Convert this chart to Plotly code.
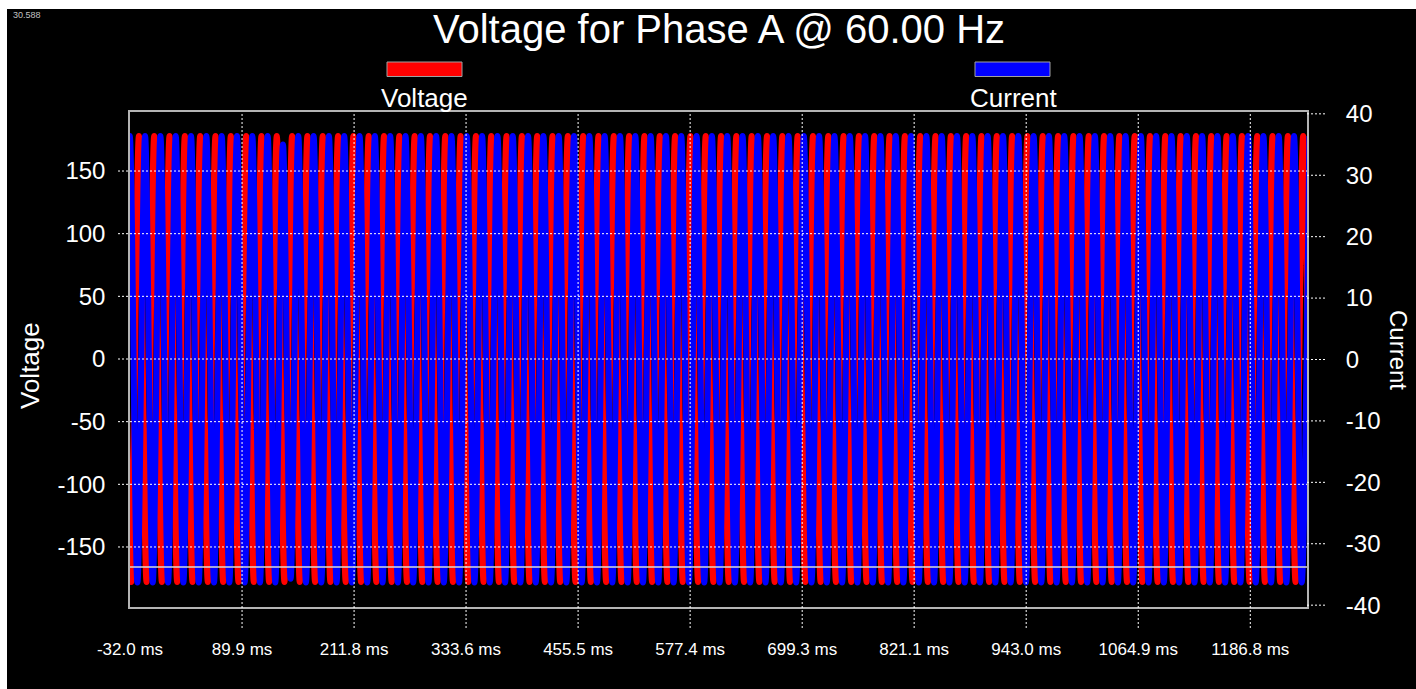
import plotly.graph_objects as go

# ---------------- data ----------------
line_freq_hz = 60.00
half_cycle_ms = 1000.0 / line_freq_hz / 2.0      # spacing between successive extremes
voltage_t0_ms = -39.0                              # time of first listed voltage extreme
current_t0_ms = -40.6                              # time of first listed current extreme

# successive peak / trough values of the Phase A voltage (V)
voltage_extremes = [
    178, -178, 178, -178, 178, -178, 178, -178, 178, -178, 178, -178,
    178, -178, 178, -178, 178, -178, 178, -178, 178, -178, 178, -178,
    178, -178, 178, -178, 178, -178, 178, -178, 178, -178, 178, -178,
    178, -178, 178, -178, 178, -178, 178, -178, 178, -178, 178, -178,
    178, -178, 178, -178, 178, -178, 178, -178, 178, -178, 178, -178,
    178, -178, 178, -178, 178, -178, 178, -178, 178, -178, 178, -178,
    178, -178, 178, -178, 178, -178, 178, -178, 178, -178, 178, -178,
    178, -178, 178, -178, 178, -178, 178, -178, 178, -178, 178, -178,
    178, -178, 178, -178, 178, -178, 178, -178, 178, -178, 178, -178,
    178, -178, 178, -178, 178, -178, 178, -178, 178, -178, 178, -178,
    178, -178, 178, -178, 178, -178, 178, -178, 178, -178, 178, -178,
    178, -178, 178, -178, 178, -178, 178, -178, 178, -178, 178, -178,
    178, -178, 178, -178, 178, -178, 178, -178, 178, -178, 178, -178,
]

# successive trough / peak values of the Phase A current (A)
current_extremes = [
    -36.3, 36.4, -36.3, 36.4, -36.3, 36.4, -36.3, 36.4, -36.3, 36.4, -36.3, 36.4,
    -36.3, 36.4, -36.3, 36.4, -36.3, 36.4, -36.3, 36.4, -36.3, 35.0, -35.7, 36.4,
    -36.3, 36.4, -36.3, 36.4, -36.3, 36.4, -36.3, 36.4, -36.3, 36.4, -36.3, 36.4,
    -36.3, 36.4, -36.3, 36.4, -36.3, 36.4, -36.3, 36.4, -36.3, 36.4, -36.3, 36.4,
    -36.3, 36.4, -36.3, 36.4, -36.3, 36.4, -36.3, 36.4, -36.3, 36.4, -36.3, 36.4,
    -36.3, 36.4, -36.3, 36.4, -36.3, 36.4, -36.3, 36.4, -36.3, 36.4, -36.3, 36.4,
    -36.3, 36.4, -36.3, 36.4, -36.3, 36.4, -36.3, 36.4, -36.3, 36.4, -36.3, 36.4,
    -36.3, 36.4, -36.3, 36.4, -36.3, 36.4, -36.3, 36.4, -36.3, 36.4, -36.3, 36.4,
    -36.3, 36.4, -36.3, 36.4, -36.3, 36.4, -36.3, 36.4, -36.3, 36.4, -36.3, 36.4,
    -36.3, 36.4, -36.3, 36.4, -36.3, 36.4, -36.3, 36.4, -36.3, 36.4, -36.3, 36.4,
    -36.3, 36.4, -36.3, 36.4, -36.3, 36.4, -36.3, 36.4, -36.3, 36.4, -36.3, 36.4,
    -36.3, 36.4, -36.3, 36.4, -36.3, 36.4, -36.3, 36.4, -36.3, 36.4, -36.3, 36.4,
    -36.3, 36.4, -36.3, 36.4, -36.3, 36.4, -36.3, 36.4, -36.3, 36.4, -36.3, 36.4,
]

x_tickvals = [-32.0, 89.9, 211.8, 333.6, 455.5, 577.4, 699.3, 821.1, 943.0, 1064.9, 1186.8]
x_ticktext = ["-32.0 ms", "89.9 ms", "211.8 ms", "333.6 ms", "455.5 ms", "577.4 ms",
              "699.3 ms", "821.1 ms", "943.0 ms", "1064.9 ms", "1186.8 ms"]
v_tickvals = [-150, -100, -50, 0, 50, 100, 150]
v_ticktext = ["-150", "-100", "-50", "0", "50", "100", "150"]
i_tickvals = [-40, -30, -20, -10, 0, 10, 20, 30, 40]
i_ticktext = ["-40", "-30", "-20", "-10", "0", "10", "20", "30", "40"]
x_range = [-32.0, 1248.5]
v_range = [-197.9, 197.1]
i_range = [-40.3, 40.3]
marker_line_v = -166.0

title_text = "Voltage for Phase A @ 60.00 Hz"
corner_text = "30.588"

# ---------------- layout geometry ----------------
W, H = 1416, 689
ML, MR, MT, MB = 130, 109, 112, 82
PW, PH = W - ML - MR, H - MT - MB
FONT = "Liberation Sans, Arial, sans-serif"


def xp(px):
    return (px - ML) / PW


def yp(py):
    return (H - MB - py) / PH


fig = go.Figure()
fig.add_trace(go.Scatter(
    x0=voltage_t0_ms, dx=half_cycle_ms, y=voltage_extremes, name="Voltage",
    mode="lines", line=dict(color="#ff0000", width=6, shape="spline"),
    yaxis="y", showlegend=False, hoverinfo="skip"))
fig.add_trace(go.Scatter(
    x0=current_t0_ms, dx=half_cycle_ms, y=current_extremes, name="Current",
    mode="lines", line=dict(color="#0000ff", width=6, shape="spline"),
    yaxis="y2", showlegend=False, hoverinfo="skip"))

shapes = []
# white page edge (top / left)
shapes.append(dict(type="rect", xref="paper", yref="paper", x0=xp(0), x1=xp(7),
                   y0=yp(H), y1=yp(0), fillcolor="white", line=dict(width=0), layer="below"))
shapes.append(dict(type="rect", xref="paper", yref="paper", x0=xp(0), x1=xp(W),
                   y0=yp(9), y1=yp(0), fillcolor="white", line=dict(width=0), layer="below"))
dot = "2px,2px"
for v in x_tickvals[1:]:
    shapes.append(dict(type="line", xref="x", yref="paper", x0=v, x1=v, y0=yp(628), y1=1,
                       line=dict(color="white", width=1, dash=dot), layer="above"))
for v in v_tickvals:
    shapes.append(dict(type="line", xref="paper", yref="y", x0=xp(118), x1=1, y0=v, y1=v,
                       line=dict(color="white", width=1, dash=dot), layer="above"))
for v in i_tickvals:
    shapes.append(dict(type="line", xref="paper", yref="y2", x0=1, x1=xp(1327), y0=v, y1=v,
                       line=dict(color="white", width=1, dash=dot), layer="above"))
shapes.append(dict(type="line", xref="paper", yref="y", x0=0, x1=1,
                   y0=marker_line_v, y1=marker_line_v,
                   line=dict(color="#d8d8d8", width=1.5), layer="above"))
# legend swatches
shapes.append(dict(type="rect", xref="paper", yref="paper", x0=xp(387), x1=xp(462),
                   y0=yp(76.5), y1=yp(62), fillcolor="#ff0000",
                   line=dict(color="#a0a0a0", width=1)))
shapes.append(dict(type="rect", xref="paper", yref="paper", x0=xp(975), x1=xp(1050),
                   y0=yp(76.5), y1=yp(62), fillcolor="#0000ff",
                   line=dict(color="#a0a0a0", width=1)))

annotations = [
    dict(text=title_text, x=0.5, y=yp(29), xref="paper", yref="paper", showarrow=False,
         xanchor="center", yanchor="middle", font=dict(family=FONT, size=40, color="white")),
    dict(text="Voltage", x=xp(424), y=yp(98), xref="paper", yref="paper", showarrow=False,
         xanchor="center", yanchor="middle", font=dict(family=FONT, size=26, color="white")),
    dict(text="Current", x=xp(1013), y=yp(98), xref="paper", yref="paper", showarrow=False,
         xanchor="center", yanchor="middle", font=dict(family=FONT, size=26, color="white")),
    dict(text="Voltage", x=xp(30), y=yp(366), xref="paper", yref="paper", showarrow=False,
         textangle=-90, xanchor="center", yanchor="middle",
         font=dict(family=FONT, size=26, color="white")),
    dict(text="Current", x=xp(1399), y=yp(350), xref="paper", yref="paper", showarrow=False,
         textangle=90, xanchor="center", yanchor="middle",
         font=dict(family=FONT, size=24, color="white")),
    dict(text=corner_text, x=xp(11), y=yp(15), xref="paper", yref="paper", showarrow=False,
         xanchor="left", yanchor="middle", font=dict(family=FONT, size=9, color="#c0c0c0")),
]

axis_line = "#b4b4b4"
fig.update_layout(
    width=W, height=H, autosize=False,
    margin=dict(l=ML, r=MR, t=MT, b=MB, pad=0),
    paper_bgcolor="black", plot_bgcolor="black",
    font=dict(family=FONT, color="white"),
    shapes=shapes, annotations=annotations,
    xaxis=dict(range=x_range, tickvals=x_tickvals, ticktext=x_ticktext,
               tickfont=dict(size=17, color="white"), ticks="outside", ticklen=26,
               tickcolor="rgba(0,0,0,0)", showgrid=False, zeroline=False,
               showline=True, mirror=True, linecolor=axis_line, linewidth=1.5,
               layer="above traces", fixedrange=True),
    yaxis=dict(range=v_range, tickvals=v_tickvals, ticktext=v_ticktext,
               tickfont=dict(size=24, color="white"), ticks="outside", ticklen=18,
               tickcolor="rgba(0,0,0,0)", showgrid=False, zeroline=False,
               showline=True, mirror=True, linecolor=axis_line, linewidth=1.5,
               layer="above traces", fixedrange=True),
    yaxis2=dict(range=i_range, tickvals=i_tickvals, ticktext=i_ticktext,
                overlaying="y", side="right",
                tickfont=dict(size=24, color="white"), ticks="outside", ticklen=33,
                tickcolor="rgba(0,0,0,0)", showgrid=False, zeroline=False,
                showline=False, fixedrange=True),
)

fig.write_html("out.html", config={"displayModeBar": False},
               post_script="document.body.style.margin='0';document.body.style.overflow='hidden';")
